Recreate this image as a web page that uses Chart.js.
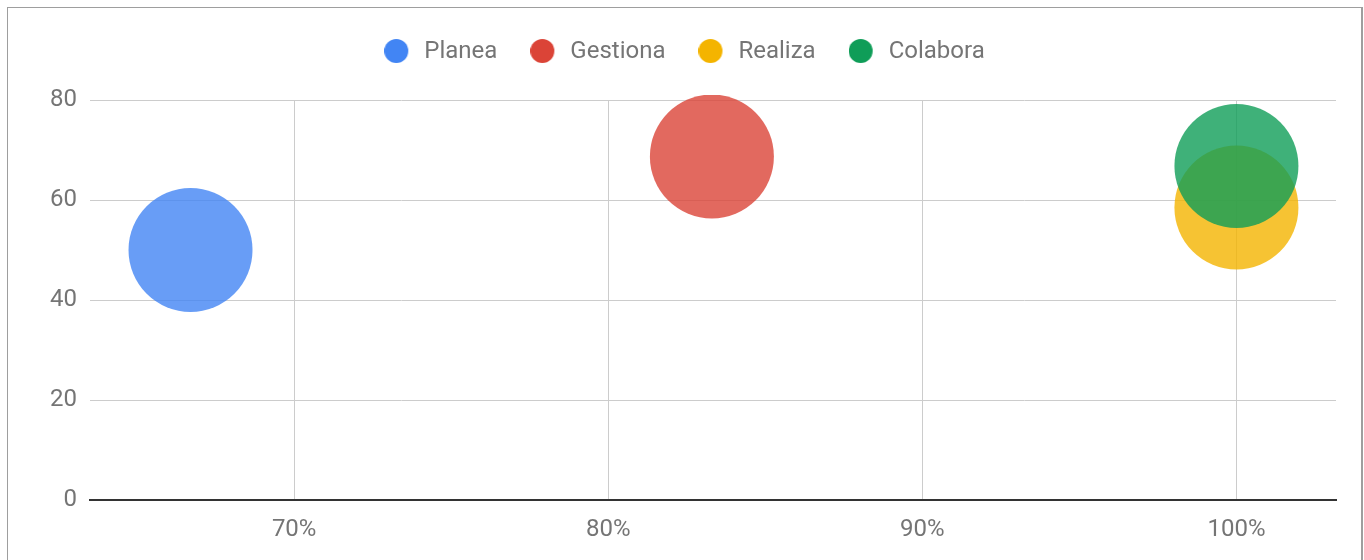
<!DOCTYPE html>
<html>
<head>
<meta charset="utf-8">
<script src="https://cdn.jsdelivr.net/npm/chart.js@4.4.1/dist/chart.umd.min.js"></script>
<style>
  html, body { margin: 0; padding: 0; background: #fff; }
  #wrap { position: relative; width: 1364px; height: 560px; overflow: hidden; }
  #frame {
    position: absolute; left: 7px; top: 7px; width: 1353px; height: 600px;
    border: 1px solid #9e9e9e; border-right-width: 2px; border-bottom: none;
    pointer-events: none;
  }
</style>
</head>
<body>
<div id="wrap">
  <canvas id="bubbles"></canvas>
  <div id="frame"></div>
</div>
<script>
// series, x = % logro, y = puntaje
const seriesNames = ["Planea", "Gestiona", "Realiza", "Colabora"];
const logro = [66.7, 83.3, 100, 100];
const puntaje = [50, 68.7, 58.5, 66.8];
const xTicks = [70, 80, 90, 100];
const yTicks = [0, 20, 40, 60, 80];

const solid = ["#4285f4", "#db4437", "#f4b400", "#0f9d58"];
const fill = ["rgba(66,133,244,0.8)", "rgba(219,68,55,0.8)", "rgba(244,180,0,0.8)", "rgba(15,157,88,0.8)"];

// legend dots: a 28px box with the 24px circle on its left, nudged up a little
const dots = solid.map(c => {
    const cv = document.createElement("canvas");
    cv.width = 28; cv.height = 26;
    const g = cv.getContext("2d");
    g.fillStyle = c;
    g.beginPath();
    g.arc(12, 12, 12, 0, Math.PI * 2);
    g.fill();
    return cv;
});

const legendSpacer = {
    id: "legendSpacer",
    beforeInit(chart) {
        if (!chart.legend) return;
        const fit = chart.legend.fit;
        chart.legend.fit = function () {
            fit.call(this);
            this.height += 26;
        };
    }
};

const tickFont = { family: "Roboto", size: 24 };

new Chart(document.getElementById("bubbles"), {
    type: "bubble",
    data: {
        datasets: seriesNames.map((name, i) => ({
            label: name,
            data: [{ x: logro[i], y: puntaje[i] }],
            backgroundColor: fill[i],
            borderWidth: 0,
            radius: 62,
            order: seriesNames.length - i,
            clip: { top: 5, left: 0, right: 0, bottom: 0 }
        }))
    },
    options: {
        responsive: true,
        maintainAspectRatio: false,
        animation: false,
        layout: { autoPadding: false, padding: { top: 7, left: 5, right: 0, bottom: 0 } },
        plugins: {
            tooltip: { enabled: false },
            legend: {
                position: "top",
                align: "center",
                labels: {
                    usePointStyle: true,
                    pointStyleWidth: 28,
                    padding: 33,
                    color: "#757575",
                    font: { family: "Roboto", size: 24 },
                    sort: (a, b) => a.datasetIndex - b.datasetIndex,
                    generateLabels: chart =>
                        Chart.defaults.plugins.legend.labels.generateLabels(chart).map(item => ({
                            ...item,
                            pointStyle: dots[item.datasetIndex]
                        }))
                }
            }
        },
        scales: {
            x: {
                type: "linear",
                min: 63.5,
                max: 103.17,
                afterBuildTicks: s => { s.ticks = xTicks.map(v => ({ value: v })); },
                afterFit: s => {
                    s.height = 60;
                    s.paddingLeft = 0; s.paddingRight = 0;
                },
                grid: { color: "#cccccc", drawTicks: false },
                border: { color: "#333333", width: 2 },
                ticks: {
                    padding: 16,
                    color: "#757575",
                    font: tickFont,
                    callback: v => v + "%"
                }
            },
            y: {
                type: "linear",
                min: 0,
                max: 80,
                afterBuildTicks: s => { s.ticks = yTicks.map(v => ({ value: v })); },
                afterFit: s => {
                    s.width = 85;
                    s.paddingTop = 0; s.paddingBottom = 0;
                },
                grid: { color: "#cccccc", drawTicks: false },
                border: { display: false },
                ticks: { padding: 13, color: "#757575", font: tickFont }
            },
            y2: {
                position: "right",
                display: true,
                afterFit: s => { s.width = 28; },
                grid: { display: false, drawTicks: false },
                border: { display: false },
                ticks: { display: false }
            }
        }
    },
    plugins: [legendSpacer]
});
</script>
</body>
</html>
